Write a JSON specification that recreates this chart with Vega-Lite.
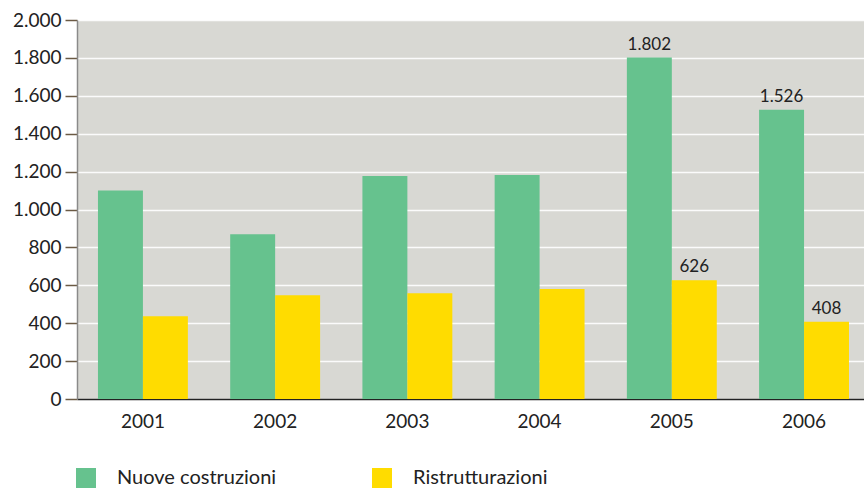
{
  "$schema": "https://vega.github.io/schema/vega-lite/v6.json",
  "autosize": {"type": "none"},
  "width": 787,
  "height": 379,
  "padding": {"left": 77, "top": 20, "right": 0, "bottom": 89},
  "background": "white",
  "config": {
    "locale": {"number": {"decimal": ",", "thousands": ".", "grouping": [3], "currency": ["€", ""]}},
    "view": {"fill": "#d8d8d3", "stroke": null},
    "font": "Lato"
  },
  "data": {
    "values": [
      {"anno": "2001", "tipo": "Nuove costruzioni", "valore": 1100},
      {"anno": "2001", "tipo": "Ristrutturazioni", "valore": 437},
      {"anno": "2002", "tipo": "Nuove costruzioni", "valore": 870},
      {"anno": "2002", "tipo": "Ristrutturazioni", "valore": 548},
      {"anno": "2003", "tipo": "Nuove costruzioni", "valore": 1177},
      {"anno": "2003", "tipo": "Ristrutturazioni", "valore": 558},
      {"anno": "2004", "tipo": "Nuove costruzioni", "valore": 1182},
      {"anno": "2004", "tipo": "Ristrutturazioni", "valore": 580},
      {"anno": "2005", "tipo": "Nuove costruzioni", "valore": 1802},
      {"anno": "2005", "tipo": "Ristrutturazioni", "valore": 626},
      {"anno": "2006", "tipo": "Nuove costruzioni", "valore": 1526},
      {"anno": "2006", "tipo": "Ristrutturazioni", "valore": 408}
    ]
  },
  "encoding": {
    "x": {
      "field": "anno", "type": "nominal",
      "scale": {"paddingInner": 0.32, "paddingOuter": 0.136, "align": 0.583},
      "axis": {
        "title": null, "labelAngle": 0, "ticks": false, "labelFontSize": 19,
        "labelColor": "#222", "labelPadding": 13, "domainColor": "#222", "domainWidth": 1.5, "grid": false
      }
    },
    "xOffset": {"field": "tipo", "type": "nominal", "scale": {"paddingInner": 0, "paddingOuter": 0}},
    "y": {
      "field": "valore", "type": "quantitative",
      "scale": {"domain": [0, 2000], "nice": false},
      "axis": {
        "title": null, "values": [0, 200, 400, 600, 800, 1000, 1200, 1400, 1600, 1800, 2000],
        "format": ",d", "labelFontSize": 19, "labelColor": "#222", "labelPadding": 4,
        "tickSize": 12, "tickColor": "#6b5a44", "tickWidth": 1.5,
        "domainColor": "#8a8a8a", "domainWidth": 1.5,
        "gridColor": "#ffffff", "gridWidth": 1.5, "gridOpacity": 0.9
      }
    }
  },
  "layer": [
    {
      "mark": {"type": "bar"},
      "encoding": {
        "color": {
          "field": "tipo", "type": "nominal",
          "scale": {"domain": ["Nuove costruzioni", "Ristrutturazioni"], "range": ["#66c28e", "#ffdc00"]},
          "legend": {
            "title": null, "orient": "none", "legendX": -1, "legendY": 448,
            "direction": "horizontal", "columns": 2, "gridAlign": "all", "columnPadding": 95,
            "symbolType": "square", "symbolSize": 400, "symbolStrokeWidth": 0, "symbolOpacity": 1,
            "labelFontSize": 20, "labelColor": "#222", "labelOffset": 21, "labelLimit": 300
          }
        }
      }
    },
    {
      "transform": [{"filter": "datum.anno == '2005' || datum.anno == '2006'"}],
      "mark": {"type": "text", "baseline": "bottom", "dy": -4, "fontSize": 17, "color": "#222"},
      "encoding": {
        "text": {"field": "valore", "type": "quantitative", "format": ",d"}
      }
    }
  ]
}
